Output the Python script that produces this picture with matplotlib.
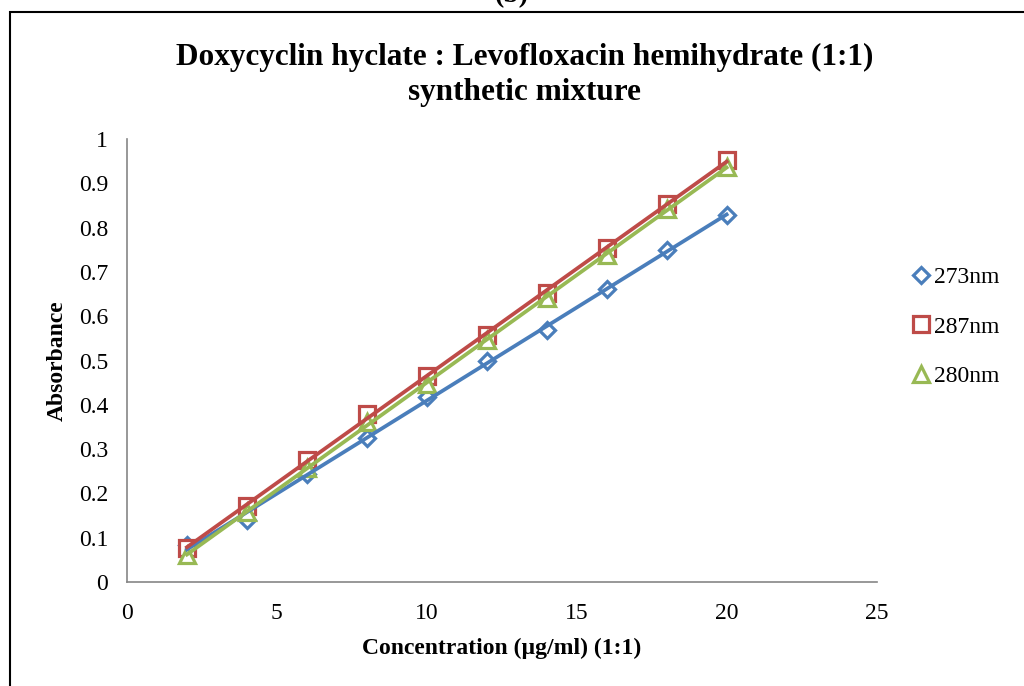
import numpy as np
import matplotlib
matplotlib.use("Agg")
import matplotlib.pyplot as plt
from matplotlib.patches import Rectangle

# Concentration (ug/ml) and absorbance readings
CONCENTRATION = [2, 4, 6, 8, 10, 12, 14, 16, 18, 20]
ABS_273 = [0.083, 0.140, 0.244, 0.325, 0.418, 0.499, 0.569, 0.661, 0.749, 0.828]
ABS_287 = [0.077, 0.172, 0.275, 0.379, 0.465, 0.558, 0.652, 0.754, 0.853, 0.953]
ABS_280 = [0.061, 0.158, 0.257, 0.361, 0.447, 0.546, 0.641, 0.738, 0.842, 0.937]

SERIES_LABELS = ["273nm", "287nm", "280nm"]
X_TICKS = [0, 5, 10, 15, 20, 25]
Y_TICKS = [0, 0.1, 0.2, 0.3, 0.4, 0.5, 0.6, 0.7, 0.8, 0.9, 1]

COLORS = ["#4A7EBB", "#BE4B48", "#98B954"]
MARKERS = ["D", "s", "^"]
MARKER_SIZES = [8.5, 11.5, 11.5]


def main() -> None:
    plt.rcParams["font.family"] = ["Liberation Serif", "DejaVu Serif"]

    fig = plt.figure(figsize=(10.24, 6.86), dpi=100)
    ax = fig.add_axes([0.124, 0.1516, 0.732, 0.6457])

    series = [ABS_273, ABS_287, ABS_280]
    x = np.array(CONCENTRATION)
    for values, label, color, marker, ms in zip(series, SERIES_LABELS, COLORS, MARKERS, MARKER_SIZES):
        y = np.array(values)
        # markers only, with a linear trendline over the data range
        ax.plot(x, y, linestyle="none", marker=marker, markersize=ms,
                markerfacecolor="white", markeredgecolor=color,
                markeredgewidth=2.3, label=label, zorder=3)
        slope, intercept = np.polyfit(x, y, 1)
        ax.plot(x, slope * x + intercept, color=color, linewidth=2.7, zorder=4)

    ax.set_xlim(0, 25)
    ax.set_ylim(0, 1)
    ax.set_xticks(X_TICKS)
    ax.set_yticks(Y_TICKS)
    ax.set_xticklabels([str(t) for t in X_TICKS])
    ax.set_yticklabels([f"{t:g}" for t in Y_TICKS])
    ax.tick_params(length=0, labelsize=17)
    ax.tick_params(axis="y", pad=13.5)
    ax.tick_params(axis="x", pad=15)

    for side in ["top", "right"]:
        ax.spines[side].set_visible(False)
    for side in ["left", "bottom"]:
        ax.spines[side].set_color("#868686")
        ax.spines[side].set_linewidth(1.2)

    ax.set_xlabel("Concentration (\u00b5g/ml) (1:1)", fontsize=17, fontweight="bold", labelpad=10)
    ax.set_ylabel("Absorbance", fontsize=17, fontweight="bold", labelpad=8)

    fig.text(0.512, 0.891, "Doxycyclin hyclate : Levofloxacin hemihydrate (1:1)\nsynthetic mixture",
             ha="center", va="center", fontsize=22.5, fontweight="bold", linespacing=1.3)
    fig.text(0.5, 0.988, "(b)", ha="center", va="bottom", fontsize=20, fontweight="bold")

    # outer frame, open at right and bottom edges of the image
    fig.patches.append(Rectangle((10 / 1024, -0.05), 1.1, 1.05 - 12 / 686,
                                 transform=fig.transFigure, fill=False,
                                 edgecolor="black", linewidth=1.5))

    ax.legend(loc="center left", bbox_to_anchor=(1.021, 0.576), frameon=False,
              fontsize=17, handlelength=0.6, handletextpad=0.25, labelspacing=1.2,
              borderaxespad=0.5)

    fig.savefig("out.png", dpi=100)


if __name__ == "__main__":
    main()
